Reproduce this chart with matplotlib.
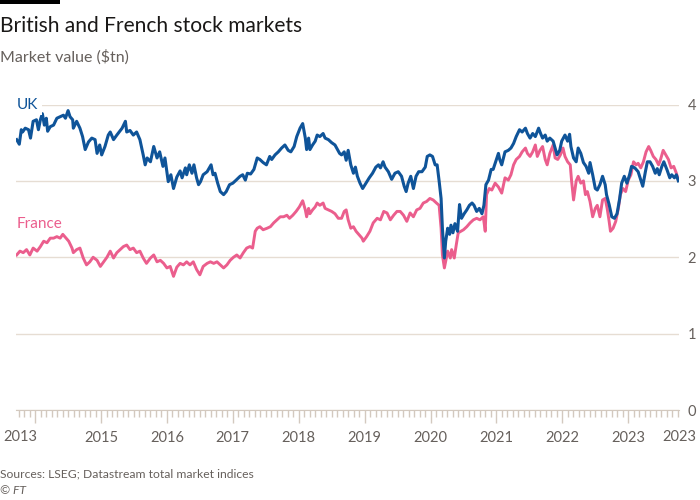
import matplotlib
matplotlib.use('Agg')
import matplotlib.pyplot as plt
import numpy as np

plt.rcParams['font.family'] = ['Lato', 'DejaVu Sans']

# time axis in decimal years, market value in $tn
uk_years = [
    2013.72, 2013.76, 2013.79, 2013.81, 2013.85, 2013.90, 2013.93, 2013.97, 2014.02, 2014.05,
    2014.08, 2014.11, 2014.14, 2014.17, 2014.19, 2014.23, 2014.28, 2014.33, 2014.38, 2014.43,
    2014.46, 2014.50, 2014.53, 2014.57, 2014.58, 2014.63, 2014.68, 2014.72, 2014.76, 2014.81,
    2014.86, 2014.91, 2014.94, 2014.98, 2015.01, 2015.06, 2015.11, 2015.14, 2015.19, 2015.24,
    2015.32, 2015.37, 2015.39, 2015.44, 2015.49, 2015.54, 2015.59, 2015.64, 2015.67, 2015.70,
    2015.75, 2015.80, 2015.85, 2015.89, 2015.94, 2015.97, 2016.02, 2016.06, 2016.10, 2016.15,
    2016.20, 2016.23, 2016.28, 2016.30, 2016.34, 2016.38, 2016.41, 2016.45, 2016.48, 2016.51,
    2016.55, 2016.61, 2016.67, 2016.70, 2016.73, 2016.77, 2016.81, 2016.86, 2016.90, 2016.95,
    2017.00, 2017.05, 2017.11, 2017.15, 2017.19, 2017.22, 2017.27, 2017.32, 2017.37, 2017.41,
    2017.46, 2017.51, 2017.56, 2017.59, 2017.64, 2017.69, 2017.74, 2017.79, 2017.84, 2017.88,
    2017.93, 2017.97, 2018.02, 2018.06, 2018.10, 2018.12, 2018.15, 2018.17, 2018.21, 2018.25,
    2018.28, 2018.32, 2018.37, 2018.40, 2018.45, 2018.50, 2018.55, 2018.62, 2018.65, 2018.69,
    2018.72, 2018.75, 2018.79, 2018.83, 2018.86, 2018.89, 2018.93, 2018.97, 2019.02, 2019.07,
    2019.12, 2019.17, 2019.21, 2019.24, 2019.28, 2019.31, 2019.36, 2019.41, 2019.46, 2019.51,
    2019.56, 2019.60, 2019.63, 2019.66, 2019.70, 2019.74, 2019.78, 2019.82, 2019.87, 2019.92,
    2019.95, 2019.99, 2020.03, 2020.07, 2020.10, 2020.13, 2020.16, 2020.18, 2020.21, 2020.23,
    2020.26, 2020.29, 2020.31, 2020.34, 2020.37, 2020.41, 2020.44, 2020.47, 2020.51, 2020.55,
    2020.59, 2020.63, 2020.66, 2020.70, 2020.74, 2020.78, 2020.81, 2020.84, 2020.88, 2020.92,
    2020.95, 2021.00, 2021.03, 2021.05, 2021.08, 2021.13, 2021.18, 2021.22, 2021.26, 2021.30,
    2021.35, 2021.39, 2021.44, 2021.47, 2021.51, 2021.55, 2021.59, 2021.64, 2021.67, 2021.70,
    2021.74, 2021.77, 2021.81, 2021.86, 2021.89, 2021.92, 2021.96, 2021.99, 2022.04, 2022.08,
    2022.11, 2022.13, 2022.17, 2022.21, 2022.24, 2022.28, 2022.32, 2022.36, 2022.40, 2022.42,
    2022.46, 2022.50, 2022.53, 2022.57, 2022.61, 2022.65, 2022.67, 2022.71, 2022.75, 2022.79,
    2022.83, 2022.87, 2022.90, 2022.94, 2022.98, 2023.02, 2023.05, 2023.10, 2023.15, 2023.19,
    2023.22, 2023.26, 2023.29, 2023.33, 2023.37, 2023.41, 2023.44, 2023.47, 2023.51, 2023.54,
    2023.59, 2023.63, 2023.66, 2023.70, 2023.73, 2023.76,
]
uk_values = [
    3.54, 3.48, 3.67, 3.64, 3.69, 3.67, 3.56, 3.78, 3.80, 3.67,
    3.80, 3.88, 3.73, 3.82, 3.65, 3.71, 3.73, 3.82, 3.84, 3.86,
    3.82, 3.92, 3.84, 3.80, 3.69, 3.78, 3.69, 3.58, 3.41, 3.51,
    3.56, 3.54, 3.36, 3.47, 3.34, 3.45, 3.60, 3.64, 3.54, 3.60,
    3.69, 3.78, 3.64, 3.66, 3.60, 3.64, 3.54, 3.34, 3.21, 3.30,
    3.25, 3.45, 3.30, 3.38, 3.19, 3.30, 2.99, 3.08, 2.90, 3.05,
    3.13, 3.04, 3.17, 3.08, 3.21, 3.10, 3.21, 3.04, 2.95, 2.99,
    3.08, 3.12, 3.21, 3.08, 3.10, 2.97, 2.86, 2.82, 2.86, 2.95,
    2.97, 3.01, 3.06, 3.08, 3.01, 3.10, 3.09, 3.15, 3.30, 3.28,
    3.24, 3.21, 3.32, 3.28, 3.34, 3.38, 3.43, 3.47, 3.40, 3.38,
    3.45, 3.58, 3.69, 3.75, 3.56, 3.41, 3.56, 3.41, 3.47, 3.52,
    3.60, 3.58, 3.62, 3.56, 3.54, 3.50, 3.47, 3.36, 3.34, 3.38,
    3.27, 3.40, 3.21, 3.10, 3.18, 3.06, 2.97, 2.90, 2.97, 3.04,
    3.10, 3.18, 3.21, 3.17, 3.25, 3.18, 3.12, 3.02, 3.10, 3.12,
    3.06, 2.93, 2.86, 2.97, 3.06, 2.90, 3.06, 3.12, 3.12, 3.18,
    3.32, 3.34, 3.32, 3.21, 3.21, 3.00, 2.77, 2.38, 1.99, 2.21,
    2.38, 2.30, 2.42, 2.32, 2.44, 2.34, 2.69, 2.51, 2.57, 2.62,
    2.68, 2.71, 2.68, 2.60, 2.64, 2.57, 2.68, 2.95, 3.01, 3.15,
    3.15, 3.28, 3.36, 3.28, 3.21, 3.38, 3.40, 3.43, 3.49, 3.58,
    3.67, 3.64, 3.69, 3.62, 3.56, 3.62, 3.58, 3.69, 3.62, 3.56,
    3.60, 3.52, 3.56, 3.52, 3.43, 3.34, 3.40, 3.52, 3.60, 3.52,
    3.61, 3.45, 3.30, 3.25, 3.43, 3.36, 3.24, 3.19, 3.10, 3.24,
    3.08, 2.90, 2.88, 2.95, 3.06, 2.95, 2.82, 2.69, 2.53, 2.51,
    2.57, 2.77, 2.97, 3.06, 2.97, 3.08, 3.19, 3.17, 3.12, 3.01,
    2.93, 3.12, 3.25, 3.25, 3.19, 3.10, 3.16, 3.08, 3.19, 3.25,
    3.14, 3.04, 3.08, 3.04, 3.08, 3.00,
]

france_years = [
    2013.72, 2013.77, 2013.82, 2013.87, 2013.92, 2013.97, 2014.03, 2014.08, 2014.13, 2014.18,
    2014.23, 2014.28, 2014.33, 2014.38, 2014.42, 2014.46, 2014.51, 2014.56, 2014.58, 2014.63,
    2014.68, 2014.73, 2014.78, 2014.83, 2014.88, 2014.94, 2014.99, 2015.04, 2015.09, 2015.14,
    2015.19, 2015.24, 2015.29, 2015.34, 2015.39, 2015.44, 2015.49, 2015.54, 2015.59, 2015.64,
    2015.69, 2015.75, 2015.80, 2015.85, 2015.90, 2015.95, 2016.00, 2016.05, 2016.10, 2016.15,
    2016.20, 2016.25, 2016.30, 2016.35, 2016.40, 2016.45, 2016.50, 2016.55, 2016.61, 2016.66,
    2016.71, 2016.76, 2016.81, 2016.86, 2016.91, 2016.96, 2017.01, 2017.06, 2017.11, 2017.16,
    2017.21, 2017.26, 2017.30, 2017.34, 2017.37, 2017.41, 2017.46, 2017.52, 2017.57, 2017.62,
    2017.67, 2017.72, 2017.77, 2017.82, 2017.86, 2017.91, 2017.96, 2018.01, 2018.06, 2018.10,
    2018.12, 2018.15, 2018.17, 2018.21, 2018.25, 2018.28, 2018.32, 2018.37, 2018.40, 2018.45,
    2018.50, 2018.55, 2018.60, 2018.65, 2018.69, 2018.72, 2018.75, 2018.79, 2018.83, 2018.87,
    2018.91, 2018.96, 2018.98, 2019.03, 2019.08, 2019.13, 2019.19, 2019.24, 2019.29, 2019.34,
    2019.39, 2019.44, 2019.49, 2019.54, 2019.59, 2019.64, 2019.69, 2019.74, 2019.79, 2019.84,
    2019.89, 2019.94, 2019.99, 2020.04, 2020.09, 2020.13, 2020.16, 2020.18, 2020.21, 2020.24,
    2020.26, 2020.30, 2020.32, 2020.36, 2020.39, 2020.42, 2020.46, 2020.50, 2020.55, 2020.60,
    2020.65, 2020.70, 2020.75, 2020.80, 2020.83, 2020.85, 2020.89, 2020.93, 2020.98, 2021.03,
    2021.08, 2021.13, 2021.18, 2021.22, 2021.26, 2021.30, 2021.35, 2021.39, 2021.44, 2021.47,
    2021.51, 2021.55, 2021.59, 2021.62, 2021.66, 2021.70, 2021.74, 2021.77, 2021.81, 2021.86,
    2021.89, 2021.93, 2021.97, 2022.01, 2022.04, 2022.08, 2022.12, 2022.14, 2022.17, 2022.21,
    2022.24, 2022.28, 2022.32, 2022.35, 2022.38, 2022.42, 2022.46, 2022.50, 2022.53, 2022.57,
    2022.61, 2022.65, 2022.68, 2022.71, 2022.73, 2022.77, 2022.81, 2022.85, 2022.88, 2022.92,
    2022.96, 2023.00, 2023.04, 2023.08, 2023.12, 2023.15, 2023.19, 2023.23, 2023.27, 2023.31,
    2023.34, 2023.38, 2023.42, 2023.46, 2023.49, 2023.53, 2023.57, 2023.61, 2023.65, 2023.69,
    2023.73, 2023.76,
]
france_values = [
    2.03, 2.08, 2.06, 2.10, 2.03, 2.12, 2.08, 2.14, 2.21, 2.19,
    2.25, 2.25, 2.27, 2.25, 2.30, 2.26, 2.21, 2.12, 2.06, 2.10,
    2.12, 1.99, 1.90, 1.94, 2.00, 1.96, 1.88, 1.94, 2.00, 2.08,
    1.99, 2.06, 2.10, 2.14, 2.16, 2.10, 2.12, 2.06, 2.08, 1.99,
    1.92, 1.99, 2.03, 1.94, 1.96, 1.92, 1.86, 1.88, 1.75, 1.87,
    1.92, 1.90, 1.94, 1.90, 1.94, 1.84, 1.77, 1.88, 1.92, 1.94,
    1.92, 1.94, 1.90, 1.86, 1.90, 1.96, 2.00, 2.03, 1.99, 2.06,
    2.12, 2.14, 2.12, 2.34, 2.38, 2.40, 2.36, 2.38, 2.40, 2.45,
    2.49, 2.53, 2.53, 2.55, 2.51, 2.55, 2.60, 2.66, 2.74, 2.62,
    2.53, 2.64, 2.57, 2.62, 2.66, 2.71, 2.68, 2.71, 2.64, 2.62,
    2.60, 2.57, 2.51, 2.51, 2.60, 2.62, 2.49, 2.38, 2.40, 2.34,
    2.30, 2.25, 2.21, 2.27, 2.34, 2.45, 2.51, 2.49, 2.60, 2.58,
    2.49, 2.55, 2.60, 2.60, 2.55, 2.47, 2.58, 2.53, 2.62, 2.64,
    2.71, 2.73, 2.77, 2.75, 2.71, 2.68, 2.38, 2.03, 1.86, 1.99,
    2.08, 1.99, 2.10, 1.99, 2.16, 2.32, 2.34, 2.36, 2.40, 2.45,
    2.49, 2.51, 2.49, 2.53, 2.34, 2.82, 2.90, 2.88, 2.97, 2.92,
    2.84, 3.04, 3.01, 3.08, 3.21, 3.28, 3.32, 3.38, 3.43, 3.36,
    3.32, 3.38, 3.47, 3.32, 3.40, 3.45, 3.28, 3.21, 3.36, 3.47,
    3.30, 3.28, 3.34, 3.43, 3.32, 3.25, 3.21, 3.00, 2.75, 3.00,
    3.06, 2.97, 3.00, 2.82, 2.86, 2.73, 2.53, 2.64, 2.68, 2.53,
    2.75, 2.77, 2.64, 2.47, 2.34, 2.38, 2.47, 2.64, 2.82, 2.90,
    2.86, 3.01, 3.08, 3.25, 3.21, 3.23, 3.17, 3.25, 3.38, 3.45,
    3.40, 3.32, 3.28, 3.21, 3.28, 3.40, 3.34, 3.28, 3.17, 3.19,
    3.10, 3.01,
]

year_labels = ['2015', '2016', '2017', '2018', '2019', '2020', '2021', '2022', '2023']
start_label = '2013'
end_label = '2023'
y_ticks = [0, 1, 2, 3, 4]

uk_color = '#0f5499'
france_color = '#eb5e8d'
grid_color = '#e6ddd3'
axis_color = '#d3c9bf'
text_grey = '#66605c'

fig = plt.figure(figsize=(7, 5), dpi=100)
ax = fig.add_axes([16 / 700, 90 / 500, 663 / 700, 305.5 / 500])

ax.plot(france_years, france_values, color=france_color, linewidth=2.1, solid_joinstyle='round', zorder=3)
ax.plot(uk_years, uk_values, color=uk_color, linewidth=2.2, solid_joinstyle='round', zorder=4)

x_start = uk_years[0] - 0.01
x_end = uk_years[-1] + 0.01
ax.set_xlim(x_start, x_end)
ax.set_ylim(0, 4)

# y axis on the right, gridlines only
ax.yaxis.tick_right()
ax.set_yticks(y_ticks)
ax.set_yticklabels([str(t) for t in y_ticks])
ax.tick_params(axis='y', length=0, pad=6, labelsize=10.5, labelcolor=text_grey)
ax.grid(axis='y', color=grid_color, linewidth=1.0, zorder=0)

# x axis: yearly major ticks, monthly minor ticks
major = np.arange(2014, 2024)
ax.set_xticks(major)
ax.set_xticklabels([''] + year_labels)
ax.set_xticks(np.arange(2013.75, x_end, 1 / 12), minor=True)
ax.tick_params(axis='x', which='major', length=9, width=1, color=axis_color,
               pad=6, labelsize=10.5, labelcolor=text_grey)
ax.tick_params(axis='x', which='minor', length=5, width=1, color=axis_color)

for side in ['top', 'left', 'right']:
    ax.spines[side].set_visible(False)
ax.spines['bottom'].set_color(axis_color)

# start / end dates of the series
fig.text(3 / 700, 1 - 437 / 500, start_label, fontsize=10.5, color=text_grey, ha='left', va='center')
fig.text(696 / 700, 1 - 437 / 500, end_label, fontsize=10.5, color=text_grey, ha='right', va='center')

# series labels
ax.text(uk_years[0], 4.0, 'UK', color=uk_color, fontsize=11, ha='left', va='center', zorder=5,
        bbox=dict(facecolor='white', edgecolor='none', boxstyle='square,pad=0.25'))
ax.text(france_years[0], 2.44, 'France', color=france_color, fontsize=11, ha='left', va='center', zorder=5)

# header and footer
fig.add_artist(plt.Rectangle((0, 496 / 500), 60 / 700, 4 / 500, transform=fig.transFigure,
                             facecolor='black', edgecolor='none'))
fig.text(0, 1 - 26 / 500, 'British and French stock markets', fontsize=15.1, color='#1a1817',
         ha='left', va='center')
fig.text(0, 1 - 57 / 500, 'Market value ($tn)', fontsize=11.5, color=text_grey, ha='left', va='center')
fig.text(0, 1 - 474 / 500, 'Sources: LSEG; Datastream total market indices', fontsize=8.7,
         color=text_grey, ha='left', va='center')
fig.text(0, 1 - 491 / 500, '© FT', fontsize=8.7, color=text_grey, style='italic', ha='left', va='center')

fig.savefig('out.png', dpi=100, facecolor='white')
